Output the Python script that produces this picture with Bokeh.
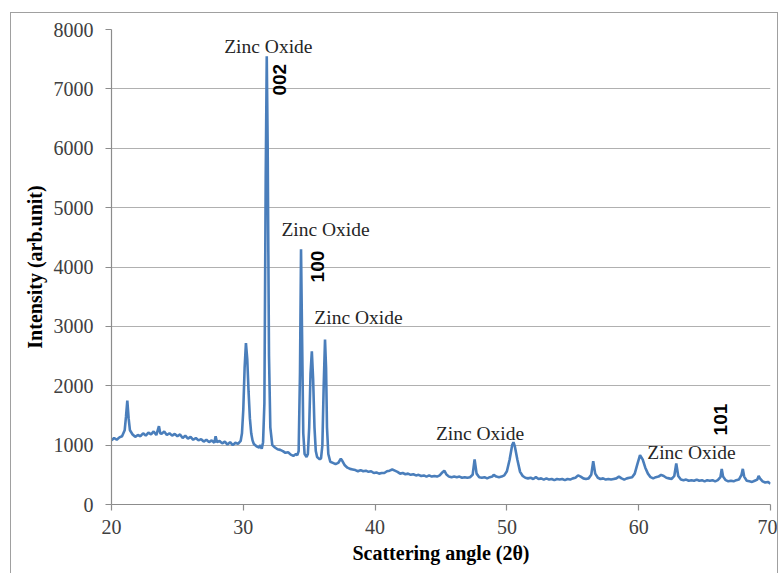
import math
from bokeh.plotting import figure
from bokeh.models import FixedTicker, Range1d
from bokeh.core.properties import value
from bokeh.embed import file_html
from bokeh.resources import INLINE

# XRD pattern: scattering angle (2θ) and intensity (arb. unit)
two_theta = [
    20.0, 20.2, 20.4, 20.6, 20.8, 21.0, 21.1, 21.2, 21.3, 21.4, 21.6, 21.8, 22.0, 22.2, 22.4, 22.6, 22.8,
    23.0, 23.2, 23.4, 23.6, 23.7, 23.8, 24.0, 24.2, 24.4, 24.6, 24.8, 25.0, 25.2, 25.4, 25.6, 25.8,
    26.0, 26.2, 26.4, 26.6, 26.8, 27.0, 27.2, 27.4, 27.6, 27.8, 27.9, 28.0, 28.2, 28.4, 28.6, 28.8,
    29.0, 29.2, 29.4, 29.6, 29.8, 29.9, 30.0, 30.1, 30.2, 30.3, 30.4, 30.5, 30.6, 30.7, 30.8,
    31.0, 31.2, 31.3, 31.4, 31.5, 31.6, 31.7, 31.78, 31.85, 31.95, 32.05, 32.2, 32.4, 32.6, 32.8,
    33.0, 33.2, 33.4, 33.6, 33.8, 34.0, 34.1, 34.2, 34.3, 34.38, 34.45, 34.55, 34.65, 34.8, 34.9,
    35.0, 35.1, 35.2, 35.3, 35.4, 35.5, 35.6, 35.8, 35.9, 36.0, 36.1, 36.2, 36.28, 36.35, 36.45,
    36.6, 36.8, 37.0, 37.2, 37.4, 37.5, 37.7, 37.9, 38.1, 38.3, 38.5, 38.7, 38.9, 39.1, 39.3, 39.5,
    39.7, 39.9, 40.1, 40.3, 40.5, 40.7, 40.9, 41.1, 41.3, 41.5, 41.7, 41.9, 42.1, 42.3, 42.5, 42.7,
    42.9, 43.1, 43.3, 43.5, 43.7, 43.9, 44.1, 44.3, 44.5, 44.7, 44.9, 45.1, 45.25, 45.4, 45.6, 45.8,
    46.0, 46.2, 46.4, 46.6, 46.8, 47.0, 47.2, 47.4, 47.55, 47.7, 47.9, 48.1, 48.3, 48.5, 48.7, 48.9,
    49.0, 49.2, 49.4, 49.6, 49.8, 50.0, 50.2, 50.4, 50.5, 50.6, 50.8, 51.0, 51.2, 51.4, 51.6, 51.8,
    52.0, 52.2, 52.4, 52.6, 52.8, 53.0, 53.2, 53.4, 53.6, 53.8, 54.0, 54.2, 54.4, 54.6, 54.8,
    55.0, 55.2, 55.4, 55.6, 55.8, 56.0, 56.2, 56.4, 56.55, 56.7, 56.9, 57.1, 57.3, 57.5, 57.7, 57.9,
    58.1, 58.3, 58.5, 58.7, 58.9, 59.1, 59.3, 59.5, 59.7, 59.9, 60.1, 60.3, 60.5, 60.7, 60.9,
    61.1, 61.3, 61.5, 61.7, 61.9, 62.1, 62.3, 62.5, 62.7, 62.85, 63.0, 63.2, 63.4, 63.6, 63.8,
    64.0, 64.2, 64.4, 64.6, 64.8, 65.0, 65.2, 65.4, 65.6, 65.8, 66.0, 66.2, 66.3, 66.4, 66.6, 66.8,
    67.0, 67.2, 67.4, 67.6, 67.8, 67.9, 68.0, 68.2, 68.4, 68.6, 68.8, 69.0, 69.1, 69.2, 69.4, 69.6,
    69.8, 70.0,
]
intensity = [
    1080, 1120, 1090, 1130, 1150, 1250, 1480, 1750, 1450, 1250, 1180, 1140, 1170, 1150, 1200, 1160, 1210,
    1180, 1230, 1170, 1320, 1200, 1190, 1230, 1170, 1200, 1160, 1190, 1150, 1180, 1120, 1160, 1110,
    1140, 1090, 1120, 1080, 1100, 1060, 1090, 1050, 1080, 1040, 1150, 1050, 1070, 1030, 1060, 1010,
    1050, 1000, 1040, 1020, 1070, 1200, 1600, 2300, 2720, 2450, 1900, 1450, 1200, 1080, 1020,
    980, 960, 1000, 940, 1050, 1700, 5500, 7550, 6000, 2500, 1300, 1000, 960, 930, 920,
    900, 870, 880, 840, 820, 850, 830, 900, 2200, 4300, 3000, 1200, 850, 800, 850,
    1300, 2200, 2580, 2100, 1300, 900, 800, 760, 780, 1000, 2000, 2780, 2300, 1300, 850,
    720, 700, 680, 700, 770, 740, 660, 620, 600, 590, 580, 560, 580, 560, 570, 550,
    560, 530, 540, 520, 530, 530, 560, 570, 590, 570, 550, 520, 530, 510, 520, 500,
    510, 490, 500, 480, 490, 470, 490, 470, 480, 470, 490, 540, 570, 510, 470, 460,
    470, 460, 470, 450, 460, 450, 460, 500, 760, 520, 460, 450, 460, 440, 460, 470,
    500, 470, 460, 470, 490, 560, 750, 1000, 1050, 980, 750, 550, 480, 450, 440, 450,
    430, 460, 430, 440, 420, 440, 420, 430, 410, 430, 420, 430, 410, 430, 420,
    440, 450, 490, 470, 440, 430, 440, 500, 730, 520, 450, 430, 440, 420, 430, 420,
    430, 440, 470, 440, 420, 440, 450, 460, 520, 680, 830, 760, 620, 520, 460,
    440, 460, 470, 500, 480, 450, 440, 430, 480, 690, 480, 420, 410, 420, 400,
    410, 400, 420, 400, 410, 390, 410, 400, 410, 390, 410, 460, 600, 470, 410, 390,
    400, 390, 410, 420, 500, 600, 470, 400, 390, 380, 400, 420, 480, 440, 390, 370,
    380, 350,
]

x_ticks = [20, 30, 40, 50, 60, 70]
y_ticks = [0, 1000, 2000, 3000, 4000, 5000, 6000, 7000, 8000]

# Peak annotations (data coordinates)
phase_text = ["Zinc Oxide", "Zinc Oxide", "Zinc Oxide", "Zinc Oxide", "Zinc Oxide"]
phase_x = [31.9, 36.24, 38.74, 47.96, 64.0]
phase_y = [7710, 4630, 3150, 1195, 875]

hkl_text = ["002", "100", "101"]
hkl_x = [32.75, 35.63, 66.24]
hkl_y = [7155, 4007, 1431]

p = figure(
    width=768, height=561,
    x_range=Range1d(20, 70), y_range=Range1d(0, 8000),
    output_backend="svg", toolbar_location=None,
    min_border_left=100, min_border_right=9, min_border_top=16, min_border_bottom=70,
    margin=(12, 0, 0, 10),
    styles={"border-top": "1px solid #a0a0a0", "border-left": "1px solid #a0a0a0",
            "border-right": "1px solid #a0a0a0"},
)
p.outline_line_color = None
p.background_fill_color = "white"
p.border_fill_color = "white"

p.line(two_theta, intensity, line_color="#4a7ebb", line_width=2.6)

serif = "Liberation Serif"
p.text(x=phase_x, y=phase_y, text=phase_text, text_font=value(serif), text_font_size="19.5px",
       text_color="#262626", text_align="center", text_baseline="middle")
p.text(x=hkl_x, y=hkl_y, text=hkl_text, text_font=value("Liberation Sans"), text_font_size="19px",
       text_font_style="bold", text_color="black", text_align="center", text_baseline="middle",
       angle=math.pi / 2)

p.xgrid.grid_line_color = None
p.ygrid.grid_line_color = "#b0b0b0"
p.ygrid.grid_line_width = 1.2

for ax in (p.xaxis, p.yaxis):
    ax.axis_line_color = "#8c8c8c"
    ax.axis_line_width = 1.2
    ax.major_tick_line_color = "#8c8c8c"
    ax.major_tick_line_width = 1.2
    ax.major_tick_in = 0
    ax.major_tick_out = 6
    ax.minor_tick_line_color = None
    ax.major_label_text_font = serif
    ax.major_label_text_font_size = "20px"
    ax.major_label_text_color = "#404040"
    ax.axis_label_text_font = serif
    ax.axis_label_text_font_style = "bold"
    ax.axis_label_text_font_size = "20px"
    ax.axis_label_text_color = "black"

p.xaxis.ticker = FixedTicker(ticks=x_ticks)
p.yaxis.ticker = FixedTicker(ticks=y_ticks)
p.xaxis.axis_label = "Scattering angle (2θ)"
p.yaxis.axis_label = "Intensity (arb.unit)"
p.xaxis.major_label_standoff = 9
p.yaxis.major_label_standoff = 12
p.xaxis.axis_label_standoff = 5
p.yaxis.axis_label_standoff = 5

open("out.html", "w").write(file_html(p, INLINE))
